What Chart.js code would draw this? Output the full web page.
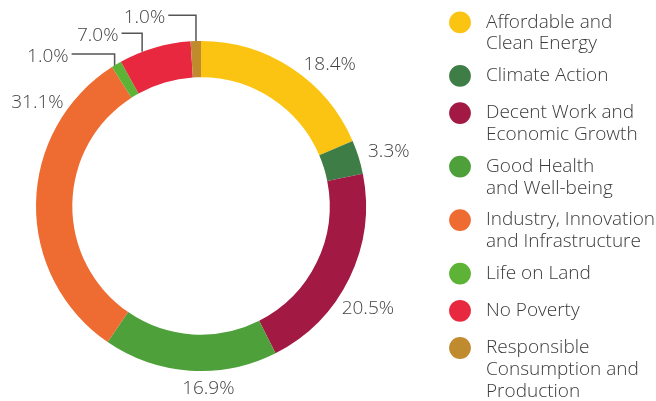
<!DOCTYPE html>
<html>
<head>
<meta charset="utf-8">
<script src="https://cdn.jsdelivr.net/npm/chart.js@4/dist/chart.umd.min.js"></script>
<style>
  html, body { margin: 0; padding: 0; background: #fff; }
  .chart-container { width: 656px; height: 401px; position: relative; }
</style>
</head>
<body>
<div class="chart-container">
  <canvas id="myChart"></canvas>
</div>
<script>
// SDG share of the portfolio, clockwise from 12 o'clock
const categories = [
  ["Affordable and", "Clean Energy"],
  ["Climate Action"],
  ["Decent Work and", "Economic Growth"],
  ["Good Health", "and Well-being"],
  ["Industry, Innovation", "and Infrastructure"],
  ["Life on Land"],
  ["No Poverty"],
  ["Responsible", "Consumption and", "Production"],
];
const shares = [18.4, 3.3, 20.5, 16.9, 31.1, 1.0, 7.0, 1.0];
const colors = ["#FBC412", "#3E7D45", "#A21A43", "#4EA03A", "#EE6C31", "#5CB335", "#E8283F", "#C08A2F"];

// where each value label sits: t = fraction along the slice,
// gap = distance from the outer edge; small slices get an elbow leader instead
const labelPlacement = [
  { t: 0.63, gap: 27 },
  { t: 0.55, gap: 31 },
  { t: 0.57, gap: 30 },
  { t: 0.40, gap: 16 },
  { t: 0.78, gap: 29 },
  { t: 0.30, rise: 11.5, run: 43 },
  { t: 0.32, rise: 18.7, run: 20.6 },
  { t: 0.52, rise: 25.8, run: 27.7 },
];

const FONT = '300 19px "Open Sans", Lato, sans-serif';

const sliceLabels = {
  id: "sliceLabels",
  afterDatasetsDraw(chart) {
    const ctx = chart.ctx;
    const meta = chart.getDatasetMeta(0);
    const values = chart.data.datasets[0].data;
    ctx.save();
    ctx.font = FONT;
    ctx.fillStyle = "#444";
    ctx.strokeStyle = "#555";
    ctx.lineWidth = 1.5;
    ctx.textBaseline = "alphabetic";
    meta.data.forEach((arc, i) => {
      const p = labelPlacement[i];
      const text = values[i].toFixed(1) + "%";
      const a = arc.startAngle + (arc.endAngle - arc.startAngle) * p.t;
      if (p.rise === undefined) {
        const r = arc.outerRadius + p.gap;
        const x = arc.x + Math.cos(a) * r;
        const y = arc.y + Math.sin(a) * r;
        ctx.textAlign = "center";
        ctx.fillText(text, x, y + 6.7);
      } else {
        const px = arc.x + Math.cos(a) * arc.outerRadius;
        const py = arc.y + Math.sin(a) * arc.outerRadius;
        const ey = py - p.rise;
        const ex = px - p.run;
        ctx.beginPath();
        ctx.moveTo(px, py);
        ctx.lineTo(px, ey);
        ctx.lineTo(ex, ey);
        ctx.stroke();
        ctx.textAlign = "right";
        ctx.fillText(text, ex - 3, ey + 1 + 6.7);
      }
    });
    ctx.restore();
  },
};

// legend on the right, one dot per category with wrapped names
const sideLegend = {
  id: "sideLegend",
  afterDraw(chart) {
    const ctx = chart.ctx;
    const labels = chart.data.labels;
    const bg = chart.data.datasets[0].backgroundColor;
    ctx.save();
    ctx.font = FONT;
    ctx.textAlign = "left";
    ctx.textBaseline = "alphabetic";
    let cy = 22.4;
    labels.forEach((lines, i) => {
      ctx.fillStyle = bg[i];
      ctx.beginPath();
      ctx.arc(460, cy, 10.9, 0, Math.PI * 2);
      ctx.fill();
      ctx.fillStyle = "#3a3a3a";
      lines.forEach((line, k) => {
        ctx.fillText(line, 486, cy + 5.3 + k * 21.7);
      });
      cy += 37.2 + 16.3 * (lines.length - 1);
    });
    ctx.restore();
  },
};

const config = {
  type: "doughnut",
  data: {
    labels: categories,
    datasets: [
      {
        data: shares,
        backgroundColor: colors,
        borderWidth: 0,
        hoverOffset: 0,
      },
    ],
  },
  options: {
    responsive: true,
    maintainAspectRatio: false,
    animation: false,
    cutout: "78%",
    layout: {
      padding: { left: 36, right: 290, top: 41, bottom: 30 },
    },
    plugins: {
      legend: { display: false },
      tooltip: { enabled: false },
    },
  },
  plugins: [sliceLabels, sideLegend],
};

var myChart = new Chart(document.getElementById("myChart"), config);
</script>
</body>
</html>
